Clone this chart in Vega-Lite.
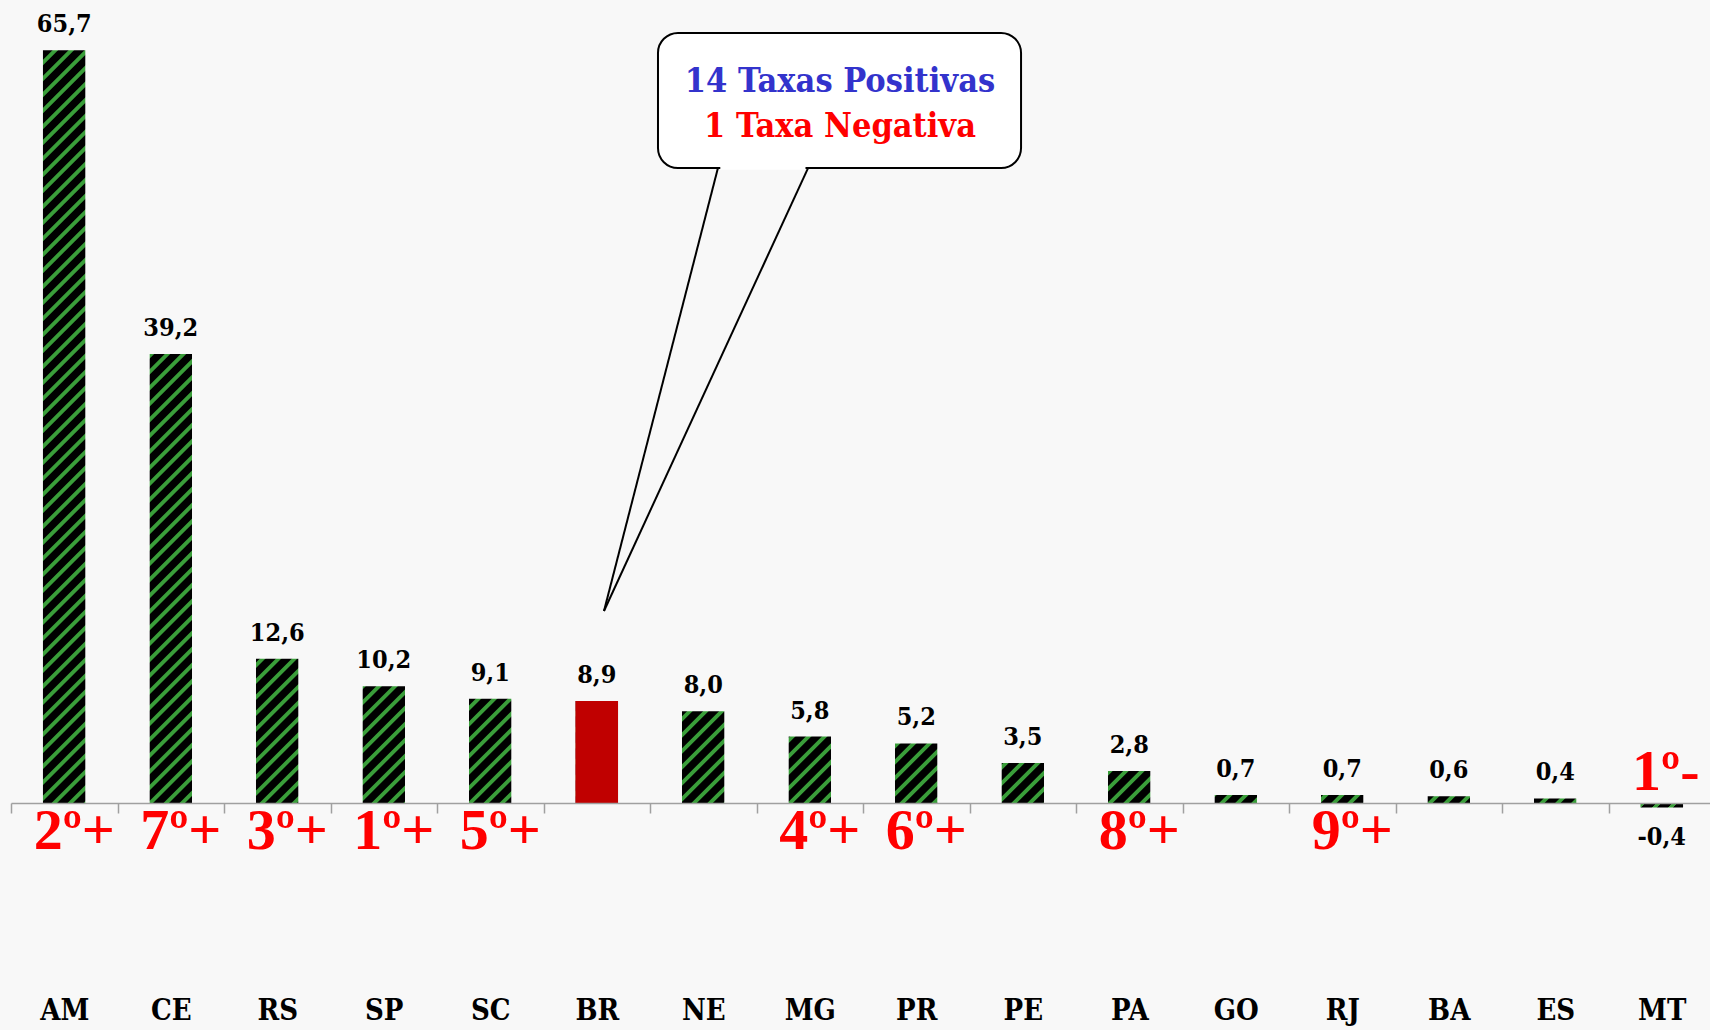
{
  "$schema": "https://vega.github.io/schema/vega-lite/v6.json",
  "width": 1699,
  "height": 802,
  "autosize": {"type": "none"},
  "padding": {"left": 11, "top": 1, "right": 0, "bottom": 227},
  "background": "#f8f8f8",
  "config": {
    "view": {"stroke": null},
    "locale": {"number": {"decimal": ",", "thousands": ".", "grouping": [3], "currency": ["R$ ", ""], "minus": "-"}}
  },
  "datasets": {
    "taxas": [
      {"estado": "AM", "valor": 65.7, "grupo": "UF", "ranking": "2º+"},
      {"estado": "CE", "valor": 39.2, "grupo": "UF", "ranking": "7º+"},
      {"estado": "RS", "valor": 12.6, "grupo": "UF", "ranking": "3º+"},
      {"estado": "SP", "valor": 10.2, "grupo": "UF", "ranking": "1º+"},
      {"estado": "SC", "valor": 9.1, "grupo": "UF", "ranking": "5º+"},
      {"estado": "BR", "valor": 8.9, "grupo": "Brasil", "ranking": ""},
      {"estado": "NE", "valor": 8.0, "grupo": "UF", "ranking": ""},
      {"estado": "MG", "valor": 5.8, "grupo": "UF", "ranking": "4º+"},
      {"estado": "PR", "valor": 5.2, "grupo": "UF", "ranking": "6º+"},
      {"estado": "PE", "valor": 3.5, "grupo": "UF", "ranking": ""},
      {"estado": "PA", "valor": 2.8, "grupo": "UF", "ranking": "8º+"},
      {"estado": "GO", "valor": 0.7, "grupo": "UF", "ranking": ""},
      {"estado": "RJ", "valor": 0.7, "grupo": "UF", "ranking": "9º+"},
      {"estado": "BA", "valor": 0.6, "grupo": "UF", "ranking": ""},
      {"estado": "ES", "valor": 0.4, "grupo": "UF", "ranking": ""},
      {"estado": "MT", "valor": -0.4, "grupo": "UF", "ranking": "1º-"}
    ],
    "anotacao": [{"elemento": "balao"}]
  },
  "resolve": {"scale": {"x": "independent"}, "axis": {"x": "independent"}},
  "layer": [
    {
      "data": {"name": "anotacao"},
      "mark": {"type": "rule", "stroke": "#000000", "strokeWidth": 1800, "clip": true},
      "encoding": {
        "x": {"datum": -0.4695, "type": "quantitative", "scale": {"domain": [0, 16], "range": [0, 1704]}, "axis": null},
        "x2": {"datum": 16.4319},
        "y": {"datum": 113.554, "type": "quantitative", "scale": {"domain": [0, 70], "nice": false, "zero": false}, "axis": null},
        "y2": {"datum": -43.554}
      }
    },
    {
      "data": {"name": "anotacao"},
      "mark": {"type": "rule", "stroke": "#3a9e3a", "strokeWidth": 1800, "strokeDash": [3.89, 7.42], "clip": true},
      "encoding": {
        "x": {"datum": -0.4695, "type": "quantitative", "scale": {"domain": [0, 16], "range": [0, 1704]}, "axis": null},
        "x2": {"datum": 16.4319},
        "y": {"datum": 113.554, "type": "quantitative", "scale": {"domain": [0, 70], "nice": false, "zero": false}, "axis": null},
        "y2": {"datum": -43.554}
      }
    },
    {
      "data": {"name": "taxas"},
      "mark": {"type": "bar", "fill": "#f8f8f8"},
      "encoding": {
        "x": {"field": "estado", "type": "nominal", "sort": null, "scale": {"domain": ["AM","CE","RS","SP","SC","BR","NE","MG","PR","PE","PA","GO","RJ","BA","ES","MT"], "range": [0, 1704], "paddingInner": 0, "paddingOuter": 0}, "axis": null},
        "y": {"field": "valor", "type": "quantitative", "scale": {"domain": [0, 70], "nice": false, "zero": false}, "axis": null},
        "y2": {"datum": 80}
      }
    },
    {
      "data": {"name": "taxas"},
      "mark": {"type": "bar", "fill": "#f8f8f8", "width": {"band": 0.6}, "xOffset": 53.25},
      "encoding": {
        "x": {"field": "estado", "type": "nominal", "sort": null, "scale": {"domain": ["AM","CE","RS","SP","SC","BR","NE","MG","PR","PE","PA","GO","RJ","BA","ES","MT"], "range": [0, 1704], "paddingInner": 0, "paddingOuter": 0}, "axis": null},
        "y": {"datum": 0, "type": "quantitative", "scale": {"domain": [0, 70], "nice": false, "zero": false}, "axis": null},
        "y2": {"datum": 80}
      }
    },
    {
      "data": {"name": "taxas"},
      "mark": {"type": "bar", "fill": "#f8f8f8", "width": {"band": 0.6}, "xOffset": -53.25},
      "encoding": {
        "x": {"field": "estado", "type": "nominal", "sort": null, "scale": {"domain": ["AM","CE","RS","SP","SC","BR","NE","MG","PR","PE","PA","GO","RJ","BA","ES","MT"], "range": [0, 1704], "paddingInner": 0, "paddingOuter": 0}, "axis": null},
        "y": {"datum": 0, "type": "quantitative", "scale": {"domain": [0, 70], "nice": false, "zero": false}, "axis": null},
        "y2": {"datum": 80}
      }
    },
    {
      "data": {"name": "taxas"},
      "transform": [{"filter": "datum.grupo === 'Brasil'"}],
      "mark": {"type": "bar", "fill": "#c00000", "width": {"band": 0.4}},
      "encoding": {
        "x": {"field": "estado", "type": "nominal", "sort": null, "scale": {"domain": ["AM","CE","RS","SP","SC","BR","NE","MG","PR","PE","PA","GO","RJ","BA","ES","MT"], "range": [0, 1704], "paddingInner": 0, "paddingOuter": 0}, "axis": null},
        "y": {"field": "valor", "type": "quantitative", "scale": {"domain": [0, 70], "nice": false, "zero": false}, "axis": null},
        "y2": {"datum": 0}
      }
    },
    {
      "data": {"name": "taxas"},
      "transform": [{"filter": "datum.valor < 0"}],
      "mark": {
        "type": "bar", "width": {"band": 0.4},
        "fill": {
          "gradient": "linear", "x1": 0, "y1": 0, "x2": 1.0948, "y2": 0.1178,
          "stops": [
            {"offset": 0, "color": "#3a9e3a"}, {"offset": 0.1166, "color": "#3a9e3a"},
            {"offset": 0.1166, "color": "#000000"}, {"offset": 0.3391, "color": "#000000"},
            {"offset": 0.3391, "color": "#3a9e3a"}, {"offset": 0.4557, "color": "#3a9e3a"},
            {"offset": 0.4557, "color": "#000000"}, {"offset": 0.6783, "color": "#000000"},
            {"offset": 0.6783, "color": "#3a9e3a"}, {"offset": 0.7949, "color": "#3a9e3a"},
            {"offset": 0.7949, "color": "#000000"}, {"offset": 1, "color": "#000000"}
          ]
        }
      },
      "encoding": {
        "x": {"field": "estado", "type": "nominal", "sort": null, "scale": {"domain": ["AM","CE","RS","SP","SC","BR","NE","MG","PR","PE","PA","GO","RJ","BA","ES","MT"], "range": [0, 1704], "paddingInner": 0, "paddingOuter": 0}, "axis": null},
        "y": {"field": "valor", "type": "quantitative", "scale": {"domain": [0, 70], "nice": false, "zero": false}, "axis": null},
        "y2": {"datum": 0}
      }
    },
    {
      "data": {"name": "taxas"},
      "transform": [{"filter": "datum.valor >= 0"}],
      "mark": {"type": "text", "font": "'DejaVu Serif Condensed', 'DejaVu Serif', serif", "fontSize": 25, "fontWeight": "bold", "color": "#000000", "baseline": "middle", "align": "center", "dy": -26},
      "encoding": {
        "x": {"field": "estado", "type": "nominal", "sort": null, "scale": {"domain": ["AM","CE","RS","SP","SC","BR","NE","MG","PR","PE","PA","GO","RJ","BA","ES","MT"], "range": [0, 1704], "paddingInner": 0, "paddingOuter": 0}, "axis": null},
        "y": {"field": "valor", "type": "quantitative", "scale": {"domain": [0, 70], "nice": false, "zero": false}, "axis": null},
        "text": {"field": "valor", "type": "quantitative", "format": ".1f"}
      }
    },
    {
      "data": {"name": "taxas"},
      "transform": [{"filter": "datum.valor < 0"}],
      "mark": {"type": "text", "font": "'DejaVu Serif Condensed', 'DejaVu Serif', serif", "fontSize": 25, "fontWeight": "bold", "color": "#000000", "baseline": "middle", "align": "center", "dy": 29},
      "encoding": {
        "x": {"field": "estado", "type": "nominal", "sort": null, "scale": {"domain": ["AM","CE","RS","SP","SC","BR","NE","MG","PR","PE","PA","GO","RJ","BA","ES","MT"], "range": [0, 1704], "paddingInner": 0, "paddingOuter": 0}, "axis": null},
        "y": {"field": "valor", "type": "quantitative", "scale": {"domain": [0, 70], "nice": false, "zero": false}, "axis": null},
        "text": {"field": "valor", "type": "quantitative", "format": ".1f"}
      }
    },
    {
      "data": {"name": "taxas"},
      "transform": [{"filter": "datum.valor > 0 && datum.ranking !== ''"}],
      "mark": {"type": "text", "font": "'Liberation Serif', serif", "fontSize": 58, "fontWeight": "bold", "color": "#ff0000", "baseline": "middle", "align": "center", "dx": 10, "dy": 29},
      "encoding": {
        "x": {"field": "estado", "type": "nominal", "sort": null, "scale": {"domain": ["AM","CE","RS","SP","SC","BR","NE","MG","PR","PE","PA","GO","RJ","BA","ES","MT"], "range": [0, 1704], "paddingInner": 0, "paddingOuter": 0}, "axis": null},
        "y": {"datum": 0, "type": "quantitative", "scale": {"domain": [0, 70], "nice": false, "zero": false}, "axis": null},
        "text": {"field": "ranking", "type": "nominal"}
      }
    },
    {
      "data": {"name": "taxas"},
      "transform": [{"filter": "datum.valor < 0 && datum.ranking !== ''"}],
      "mark": {"type": "text", "font": "'Liberation Serif', serif", "fontSize": 58, "fontWeight": "bold", "color": "#ff0000", "baseline": "middle", "align": "center", "dx": 4, "dy": -30},
      "encoding": {
        "x": {"field": "estado", "type": "nominal", "sort": null, "scale": {"domain": ["AM","CE","RS","SP","SC","BR","NE","MG","PR","PE","PA","GO","RJ","BA","ES","MT"], "range": [0, 1704], "paddingInner": 0, "paddingOuter": 0}, "axis": null},
        "y": {"datum": 0, "type": "quantitative", "scale": {"domain": [0, 70], "nice": false, "zero": false}, "axis": null},
        "text": {"field": "ranking", "type": "nominal"}
      }
    },
    {
      "data": {"name": "anotacao"},
      "mark": {"type": "rect", "fill": "#ffffff", "stroke": "#000000", "strokeWidth": 2, "cornerRadius": 20},
      "encoding": {
        "x": {"datum": 6.075, "type": "quantitative", "scale": {"domain": [0, 16], "range": [0, 1704]}, "axis": null},
        "x2": {"datum": 9.484},
        "y": {"datum": 67.21, "type": "quantitative", "scale": {"domain": [0, 70], "nice": false, "zero": false}, "axis": null},
        "y2": {"datum": 55.42}
      }
    },
    {
      "data": {"name": "anotacao"},
      "mark": {"type": "rule", "stroke": "#ffffff", "strokeWidth": 3.5},
      "encoding": {
        "x": {"datum": 6.66, "type": "quantitative", "scale": {"domain": [0, 16], "range": [0, 1704]}, "axis": null},
        "x2": {"datum": 7.46},
        "y": {"datum": 55.42, "type": "quantitative", "scale": {"domain": [0, 70], "nice": false, "zero": false}, "axis": null}
      }
    },
    {
      "data": {"name": "anotacao"},
      "mark": {"type": "rule", "stroke": "#000000", "strokeWidth": 2},
      "encoding": {
        "x": {"datum": 6.638, "type": "quantitative", "scale": {"domain": [0, 16], "range": [0, 1704]}, "axis": null},
        "x2": {"datum": 5.568},
        "y": {"datum": 55.42, "type": "quantitative", "scale": {"domain": [0, 70], "nice": false, "zero": false}, "axis": null},
        "y2": {"datum": 16.76}
      }
    },
    {
      "data": {"name": "anotacao"},
      "mark": {"type": "rule", "stroke": "#000000", "strokeWidth": 2},
      "encoding": {
        "x": {"datum": 7.484, "type": "quantitative", "scale": {"domain": [0, 16], "range": [0, 1704]}, "axis": null},
        "x2": {"datum": 5.568},
        "y": {"datum": 55.42, "type": "quantitative", "scale": {"domain": [0, 70], "nice": false, "zero": false}, "axis": null},
        "y2": {"datum": 16.76}
      }
    },
    {
      "data": {"name": "anotacao"},
      "mark": {"type": "text", "text": "14 Taxas Positivas", "font": "'DejaVu Serif Condensed', 'DejaVu Serif', serif", "fontSize": 34, "fontWeight": "bold", "color": "#3333cc", "align": "center", "baseline": "middle"},
      "encoding": {
        "x": {"datum": 7.784, "type": "quantitative", "scale": {"domain": [0, 16], "range": [0, 1704]}, "axis": null},
        "y": {"datum": 62.9, "type": "quantitative", "scale": {"domain": [0, 70], "nice": false, "zero": false}, "axis": null}
      }
    },
    {
      "data": {"name": "anotacao"},
      "mark": {"type": "text", "text": "1 Taxa Negativa", "font": "'DejaVu Serif Condensed', 'DejaVu Serif', serif", "fontSize": 34, "fontWeight": "bold", "color": "#ff0000", "align": "center", "baseline": "middle"},
      "encoding": {
        "x": {"datum": 7.784, "type": "quantitative", "scale": {"domain": [0, 16], "range": [0, 1704]}, "axis": null},
        "y": {"datum": 59.0, "type": "quantitative", "scale": {"domain": [0, 70], "nice": false, "zero": false}, "axis": null}
      }
    },
    {
      "data": {"name": "taxas"},
      "mark": {"type": "tick", "opacity": 0},
      "encoding": {
        "x": {
          "field": "estado", "type": "nominal", "sort": null,
          "scale": {"domain": ["AM","CE","RS","SP","SC","BR","NE","MG","PR","PE","PA","GO","RJ","BA","ES","MT"], "range": [0, 1704], "paddingInner": 0, "paddingOuter": 0},
          "axis": {
            "orient": "bottom",
            "title": null, "labelAngle": 0, "grid": false, "zindex": 1,
            "domainColor": "#a0a0a0", "domainWidth": 1.5,
            "tickColor": "#a0a0a0", "tickWidth": 1.5, "tickSize": 10, "tickBand": "extent",
            "labelFont": "'DejaVu Serif Condensed', 'DejaVu Serif', serif", "labelFontSize": 29, "labelFontWeight": "bold",
            "labelColor": "#000000", "labelPadding": 197, "labelBaseline": "middle",
            "labelOverlap": false, "labelBound": false, "labelFlush": false
          }
        },
        "y": {"datum": 0, "type": "quantitative", "scale": {"domain": [0, 70], "nice": false, "zero": false}, "axis": null}
      }
    }
  ]
}
